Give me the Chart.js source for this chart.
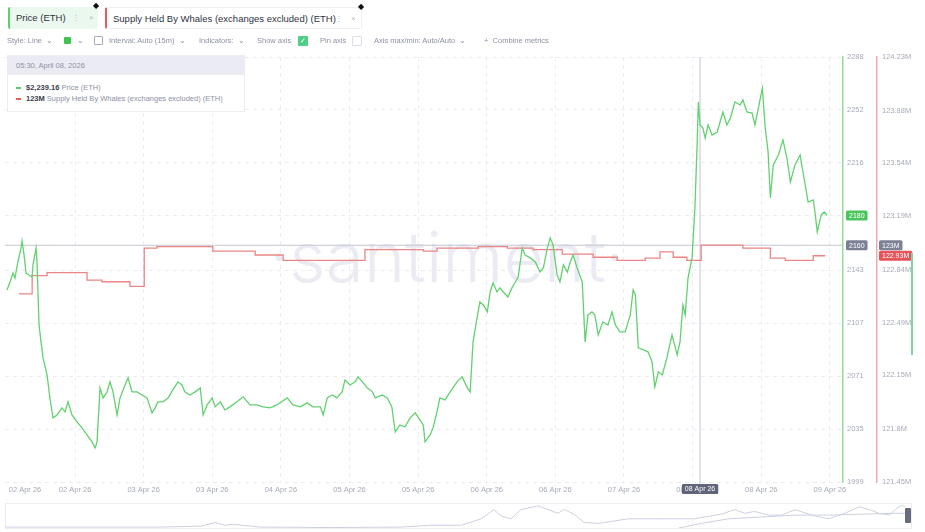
<!DOCTYPE html>
<html>
<head>
<meta charset="utf-8">
<script src="https://cdn.jsdelivr.net/npm/chart.js@4.4.1/dist/chart.umd.min.js"></script>
<style>
  body { margin: 0; background: #fff; font-family: "Liberation Sans", Arial, sans-serif; }
  #wrap { position: relative; width: 925px; height: 532px; overflow: hidden; }
  #main { position: absolute; left: 0; top: 0; }
  #nav { position: absolute; left: 5px; top: 503px; }
  .chip { position: absolute; top: 7px; height: 22px; box-sizing: border-box; font-size: 9.5px; color: #2f3240; line-height: 21px; padding-left: 6px; border-radius: 2px; }
  .chip .ic { position: absolute; top: 0; color: #b4b7c6; font-size: 8px; }
  .pin { position: absolute; font-size: 8px; color: #111; }
  .tb { position: absolute; top: 36px; font-size: 7.5px; color: #8d91a5; line-height: 10px; white-space: nowrap; }
  .box { position: absolute; top: 36px; width: 9px; height: 9px; box-sizing: border-box; border-radius: 1px; }
  #tip { position: absolute; left: 7px; top: 55px; width: 238px; height: 57px; background: #fff; border: 1px solid #ececf2; box-sizing: border-box; font-size: 7.5px; color: #8d91a5; }
  #tip .hd { height: 19px; background: #ebebf3; line-height: 19px; padding-left: 8px; }
  #tip .row { position: absolute; left: 8px; white-space: nowrap; }
  #tip b { color: #3a3d4c; }
  #tip .dash { display: inline-block; width: 5px; height: 1.5px; vertical-align: middle; margin-right: 5px; }
  #navbox { position: absolute; left: 5px; top: 503px; width: 907px; height: 26px; border: 1px solid #ececf2; box-sizing: border-box; }
</style>
</head>
<body>
<div id="wrap">
  <canvas id="main" width="925" height="532"></canvas>
  <div id="navbox"></div>
  <canvas id="nav" width="902" height="26"></canvas>

  <div class="chip" style="left:8px;width:90px;background:#ebf8ed;border-left:2px solid #5ccf6a;">Price (ETH)
    <span class="ic" style="left:62px;">&#8942;</span><span class="ic" style="left:79px;">&#215;</span></div>
  <div class="pin" style="left:93px;top:1px;">&#9670;</div>
  <div class="chip" style="left:105px;width:257px;background:#fff;border:1px solid #eeeef4;border-left:2px solid #e45b5b;">Supply Held By Whales (exchanges excluded) (ETH)
    <span class="ic" style="left:228px;">&#8942;</span><span class="ic" style="left:244px;">&#215;</span></div>
  <div class="pin" style="left:358px;top:2px;">&#9670;</div>

  <span class="tb" style="left:7px;">Style: Line &nbsp;&#8964;</span>
  <div class="box" style="left:64px;top:37px;width:7px;height:7px;background:#3cc64e;"></div>
  <span class="tb" style="left:77px;">&#8964;</span>
  <div class="box" style="left:94px;border:1px solid #a8abbb;"></div>
  <span class="tb" style="left:109px;">Interval: Auto (15m) &nbsp;&#8964;</span>
  <span class="tb" style="left:199px;">Indicators: &nbsp;&#8964;</span>
  <span class="tb" style="left:257px;">Show axis</span>
  <div class="box" style="left:298px;width:10px;height:10px;background:#4fcf86;color:#fff;font-size:7px;line-height:10px;text-align:center;">&#10003;</div>
  <span class="tb" style="left:320px;">Pin axis</span>
  <div class="box" style="left:352px;width:10px;height:10px;border:1px solid #dcdde6;"></div>
  <span class="tb" style="left:374px;">Axis max/min: Auto/Auto &nbsp;&#8964;</span>
  <span class="tb" style="left:484px;">+ &nbsp;Combine metrics</span>

  <div id="tip">
    <div class="hd">05:30, April 08, 2026</div>
    <div class="row" style="top:27px;"><span class="dash" style="background:#5ccf6a;"></span><b>$2,239.16</b> Price (ETH)</div>
    <div class="row" style="top:38px;"><span class="dash" style="background:#e45b5b;"></span><b>123M</b> Supply Held By Whales (exchanges excluded) (ETH)</div>
  </div>

  <div style="position:absolute;left:911px;top:253px;width:2px;height:102px;background:#7fd8a4;"></div>
  <div style="position:absolute;left:905px;top:508px;width:6px;height:15px;background:#666b7e;border-radius:1px;"></div>
</div>

<script>
// price, hours from the start of the window (15m candles)
const priceHours = [0.1, 0.63, 1.15, 1.5, 2.0, 2.55, 2.73, 3.08, 3.43, 3.95, 4.48, 4.65, 5.18, 5.35, 5.7, 6.05, 6.4, 7.1, 7.6, 8.15,
  8.85, 9.72, 10.25, 10.77, 11.47, 12.35, 13.22, 14.1, 14.97, 15.5, 15.85, 16.37, 16.9, 17.6, 18.12, 18.64, 19.35, 19.87, 20.74, 21.27,
  21.97, 22.84, 23.72, 24.6, 25.47, 26, 26.5, 27.4, 28.3, 29.1, 30, 30.7, 31.2, 32.1, 33, 33.9, 34.4, 35.1, 36, 36.5,
  37.4, 38.2, 39.1, 40.3, 41.4, 42.6, 43.8, 44.9, 46.1, 47.3, 49.1, 50.1, 51.4, 52.6, 53.6, 54.9, 55.4, 56.1, 57, 57.8,
  58.7, 59.2, 60.1, 61, 61.5, 62.4, 63.1, 64, 64.5, 65.7, 66.6, 67.4, 68, 68.8, 69.7, 70.6, 71.5, 72.3, 72.9, 73.2,
  74.1, 74.6, 75.3, 75.8, 76.7, 77.6, 78.8, 79.7, 80.6, 81.1, 81.6, 82.3, 82.8, 83.4, 84.1, 84.6, 85.1, 85.8, 86.3, 86.9,
  87.7, 88.4, 89, 89.5, 90.2, 90.7, 91.6, 92.5, 93.3, 93.9, 94.6, 95.1, 95.6, 96.3, 96.8, 97.4, 98.1, 98.6, 99.1, 99.8,
  100.7, 101.2, 101.7, 102.4, 102.9, 103.5, 104.3, 105.2, 105.9, 106.5, 107.3, 108.2, 109.1, 109.6, 110, 110.5, 111.4, 112.2, 112.9, 113.4,
  114, 114.7, 115.5, 116.4, 117.3, 117.8, 118.3, 118.7, 119.2, 119.9, 120.4, 120.8, 121, 121.3, 121.8, 122.2, 122.7, 123.4, 124.3, 124.8,
  125.3, 126, 126.6, 127.4, 128.3, 128.8, 129.5, 130.4, 130.9, 131.5, 132.2, 132.7, 133.2, 133.6, 134.1, 135, 135.8, 136.5, 137.1, 137.9,
  138.8, 139.3, 140.2, 141.1, 141.4, 141.8, 142.5, 143, 143.5];
const priceValues = [2129.6, 2135, 2141, 2137.8, 2148.6, 2158, 2163, 2153.4, 2141, 2139.8, 2138.4, 2146.6, 2158, 2148.6, 2105.8, 2094.3, 2083.4, 2071.8, 2056.2, 2042.6,
  2044.6, 2049.4, 2046.7, 2053.5, 2044.6, 2039.9, 2035.8, 2031, 2026.3, 2022.2, 2026.3, 2063, 2056.2, 2060.3, 2067.1, 2060.3, 2044.6, 2056.2, 2065, 2069.8,
  2060.3, 2060.3, 2058.2, 2056.2, 2046, 2049.4, 2053.5, 2053.5, 2056.2, 2061.6, 2067.1, 2065, 2060.3, 2058.2, 2060.3, 2063, 2044.6, 2051.4, 2056.2, 2050.1,
  2053.5, 2048, 2050.1, 2053.5, 2056.9, 2051.4, 2051.4, 2050.1, 2049.4, 2051.4, 2056.2, 2051.4, 2050.1, 2052.8, 2050.1, 2050.1, 2044.6, 2056.2, 2058.2, 2056.2,
  2060.3, 2068.4, 2065, 2067.1, 2070.5, 2066.4, 2063, 2060.3, 2056.2, 2058.2, 2056.2, 2050.1, 2033, 2037.8, 2036.5, 2042.6, 2046, 2041.2, 2037.8, 2026.3,
  2031, 2035.8, 2046.7, 2056.2, 2054.8, 2060.3, 2067.1, 2070.5, 2063, 2060.3, 2094.3, 2110.6, 2121.4, 2119.4, 2114.7, 2128.2, 2134.4, 2128.2, 2131, 2128.2,
  2124.8, 2131, 2135, 2138.4, 2158.2, 2153.4, 2151.4, 2148.6, 2141.8, 2144.6, 2158.2, 2165, 2160.2, 2139.8, 2135, 2146.6, 2141.8, 2148.6, 2153.4, 2144.6,
  2135, 2094.3, 2112.6, 2114.7, 2112.6, 2099, 2107.9, 2105.8, 2114.7, 2105.8, 2101.1, 2101.1, 2112.6, 2129.6, 2126.2, 2090.2, 2088.8, 2087.5, 2080.7, 2063.7,
  2073.9, 2071.8, 2083.4, 2099, 2085.4, 2094.3, 2119.4, 2112.6, 2137.8, 2151.4, 2185.3, 2230.2, 2257.4, 2241.8, 2239.7, 2232.9, 2241.8, 2235, 2237, 2243.8,
  2250.6, 2241.8, 2246.5, 2257.4, 2255.4, 2258.8, 2250.6, 2249.9, 2241.8, 2253.3, 2266.9, 2239.7, 2223.4, 2192.1, 2214.6, 2221.4, 2231.6, 2219.3, 2203, 2214.6,
  2221.4, 2209.8, 2189.4, 2190.8, 2182.6, 2169, 2180.6, 2182.6, 2180.2];

// supply held by whales (M ETH), step changes
const supplyHours = [2.2, 4.5, 7.1, 14.1, 16.7, 21.6, 24.1, 26.3, 36.1, 43.5, 48.4, 62.7, 72.9, 75.3, 82.5, 87.6, 92.1, 97.2, 102.6, 106.8,
  111.7, 114.3, 116.6, 119.0, 121.5, 128.8, 133.6, 136.2, 141.1, 143.2];
const supplyValues = [122.68, 122.80, 122.82, 122.77, 122.76, 122.73, 122.98, 122.99, 122.96, 122.935, 122.90, 122.97, 122.96, 122.98, 122.99, 122.98, 122.97, 122.94, 122.92, 122.90,
  122.915, 122.955, 122.92, 122.90, 123.0, 122.98, 122.915, 122.90, 122.93, 122.93];

const xTickHours = [3.25, 12, 24, 36, 48, 60, 72, 84, 96, 108, 120, 132, 144];
const xTickLabels = ['02 Apr 26', '02 Apr 26', '03 Apr 26', '03 Apr 26', '04 Apr 26', '05 Apr 26', '05 Apr 26',
  '06 Apr 26', '06 Apr 26', '07 Apr 26', '08 Apr 26', '08 Apr 26', '09 Apr 26'];
const priceTicks = [1999, 2035, 2071, 2107, 2143, 2180, 2216, 2252, 2288];
const supplyTicks = [121.45, 121.8, 122.15, 122.49, 122.84, 123.19, 123.54, 123.88, 124.23];

// hover state shown in the picture
const crossHour = 121.3;
const crossPrice = 2160;
const crossLabel = '08 Apr 26';

// navigator (whole history, relative height 0..1)
const navPos = [0, 17.2, 21.7, 23.3, 24.4, 25.3, 28.3, 36.1, 43.9, 47.2, 50.6, 52.8, 54.2, 55, 56.1, 57.2, 59.1, 60.2, 61.3, 62,
  63.1, 64.2, 65.8, 69.1, 72.8, 76.4, 79.4, 80.9, 82, 83.1, 84.7, 86.1, 87.6, 89.4, 91.3, 93.1, 94.7, 95.8, 96.9, 98, 98.7, 99.4, 99.8];
const navPrice = [0.04, 0.04, 0.08, 0.24, 0.12, 0.16, 0.04, 0.02, 0.04, 0.12, 0.12, 0.4, 0.8, 0.52, 0.4, 0.8, 0.96, 0.8, 0.64, 0.8,
  0.6, 0.24, 0.2, 0.4, 0.4, 0.4, 0.6, 0.8, 0.64, 0.72, 0.56, 0.56, 0.8, 0.56, 0.4, 0.64, 0.92, 0.8, 0.64, 0.56, 0.8, 1.0, 0.92];
const navSupplyPos = [74.7, 77.2, 80.2, 83.9, 87.6, 91.3, 95, 98.7, 100];
const navSupply = [0, 0.2, 0.4, 0.48, 0.56, 0.56, 0.6, 0.64, 0.64];

const green = '#62d170';
const red = '#ec8585';
const axisGrey = '#a6aabb';
const tickFont = {size: 7.5, family: '"Liberation Sans", Arial, sans-serif'};

function tag(ctx, text, x, y, bg, center) {
  ctx.font = '7px "Liberation Sans", Arial, sans-serif';
  const w = ctx.measureText(text).width + 6;
  const left = center ? x - w / 2 : x;
  ctx.fillStyle = bg;
  ctx.beginPath();
  ctx.roundRect(left, y - 5, w, 10, 1.5);
  ctx.fill();
  ctx.fillStyle = '#fff';
  ctx.textAlign = 'left';
  ctx.textBaseline = 'middle';
  ctx.fillText(text, left + 3, y + 0.5);
}

const overlay = {
  id: 'overlay',
  beforeDatasetsDraw(chart) {
    const {ctx, chartArea: a, scales} = chart;
    ctx.save();
    // watermark
    ctx.fillStyle = '#ebebf3';
    ctx.font = '300 70px Inter, "Liberation Sans", sans-serif';
    ctx.textAlign = 'center';
    ctx.textBaseline = 'middle';
    ctx.fillText('\u00b7santiment\u00b7', 447, 261);
    // crosshair
    const cx = scales.x.getPixelForValue(crossHour);
    const cy = scales.y.getPixelForValue(crossPrice);
    ctx.strokeStyle = '#c4c6d2';
    ctx.lineWidth = 1;
    ctx.beginPath();
    ctx.moveTo(a.left, cy); ctx.lineTo(a.right, cy);
    ctx.moveTo(cx, a.top); ctx.lineTo(cx, a.bottom + 2);
    ctx.stroke();
    ctx.restore();
  },
  afterDraw(chart) {
    const {ctx, chartArea: a, scales} = chart;
    ctx.save();
    const cx = scales.x.getPixelForValue(crossHour);
    const cy = scales.y.getPixelForValue(crossPrice);
    const lastP = priceValues[priceValues.length - 1];
    const lastS = supplyValues[supplyValues.length - 1];
    tag(ctx, String(Math.round(lastP)), scales.y.left + 3, scales.y.getPixelForValue(lastP), '#4cc65c');
    tag(ctx, String(crossPrice), scales.y.left + 3, cy, '#7c8196');
    const sCross = scales.y1.getValueForPixel(cy);
    tag(ctx, Math.round(sCross) + 'M', scales.y1.left + 2, cy, '#7c8196');
    tag(ctx, lastS.toFixed(2) + 'M', scales.y1.left + 2, scales.y1.getPixelForValue(lastS), '#e5535b');
    tag(ctx, crossLabel, cx, a.bottom + 7, '#5f6478', true);
    ctx.restore();
  }
};

new Chart(document.getElementById('main'), {
  type: 'line',
  data: {
    datasets: [{
      label: 'Price (ETH)',
      data: priceHours.map((h, i) => ({x: h, y: priceValues[i]})),
      borderColor: green,
      borderWidth: 1.3,
      pointRadius: 0,
      yAxisID: 'y'
    }, {
      label: 'Supply Held By Whales (exchanges excluded) (ETH)',
      data: supplyHours.map((h, i) => ({x: h, y: supplyValues[i]})),
      borderColor: red,
      borderWidth: 1.3,
      pointRadius: 0,
      stepped: true,
      yAxisID: 'y1'
    }]
  },
  options: {
    responsive: false,
    animation: false,
    events: [],
    layout: {padding: {left: 5, top: 57, right: 8, bottom: 34}},
    plugins: {legend: {display: false}, tooltip: {enabled: false}},
    scales: {
      x: {
        type: 'linear',
        min: -0.25,
        max: 146.3,
        afterBuildTicks: s => { s.ticks = xTickHours.map(v => ({value: v})); },
        afterFit: s => { s.height = 16; },
        ticks: {
          autoSkip: false, maxRotation: 0, padding: 3, color: axisGrey, font: tickFont,
          callback: (v, i) => xTickLabels[i]
        },
        grid: {color: c => c.index === 0 ? 'rgba(0,0,0,0)' : '#ebebf1', drawTicks: false},
        border: {display: false, dash: [4, 4]}
      },
      y: {
        position: 'right',
        weight: 0,
        min: 1999,
        max: 2288,
        afterBuildTicks: s => { s.ticks = priceTicks.map(v => ({value: v})); },
        afterFit: s => { s.width = 34; },
        ticks: {padding: 4, color: axisGrey, font: tickFont, callback: v => String(v)},
        grid: {color: '#ebebf1', drawTicks: false},
        border: {color: '#92dd9c', width: 1.5, dash: [4, 4]}
      },
      y1: {
        position: 'right',
        weight: 1,
        min: 121.45,
        max: 124.23,
        afterBuildTicks: s => { s.ticks = supplyTicks.map(v => ({value: v})); },
        afterFit: s => { s.width = 40; },
        ticks: {padding: 5, color: axisGrey, font: tickFont, callback: v => v + 'M'},
        grid: {drawOnChartArea: false, drawTicks: false},
        border: {color: '#f2a9a9', width: 1.5}
      }
    }
  },
  plugins: [overlay]
});

new Chart(document.getElementById('nav'), {
  type: 'line',
  data: {
    datasets: [{
      data: navPos.map((p, i) => ({x: p, y: navPrice[i]})),
      borderColor: '#cdd0e2', borderWidth: 1, pointRadius: 0
    }, {
      data: navSupplyPos.map((p, i) => ({x: p, y: navSupply[i]})),
      borderColor: '#cdd0e2', borderWidth: 1, pointRadius: 0
    }]
  },
  options: {
    responsive: false,
    animation: false,
    events: [],
    layout: {padding: {top: 2, bottom: 1, left: 0, right: 0}},
    plugins: {legend: {display: false}, tooltip: {enabled: false}},
    scales: {
      x: {type: 'linear', min: 0, max: 100, display: false},
      y: {min: 0, max: 1, display: false}
    }
  }
});
</script>
</body>
</html>
